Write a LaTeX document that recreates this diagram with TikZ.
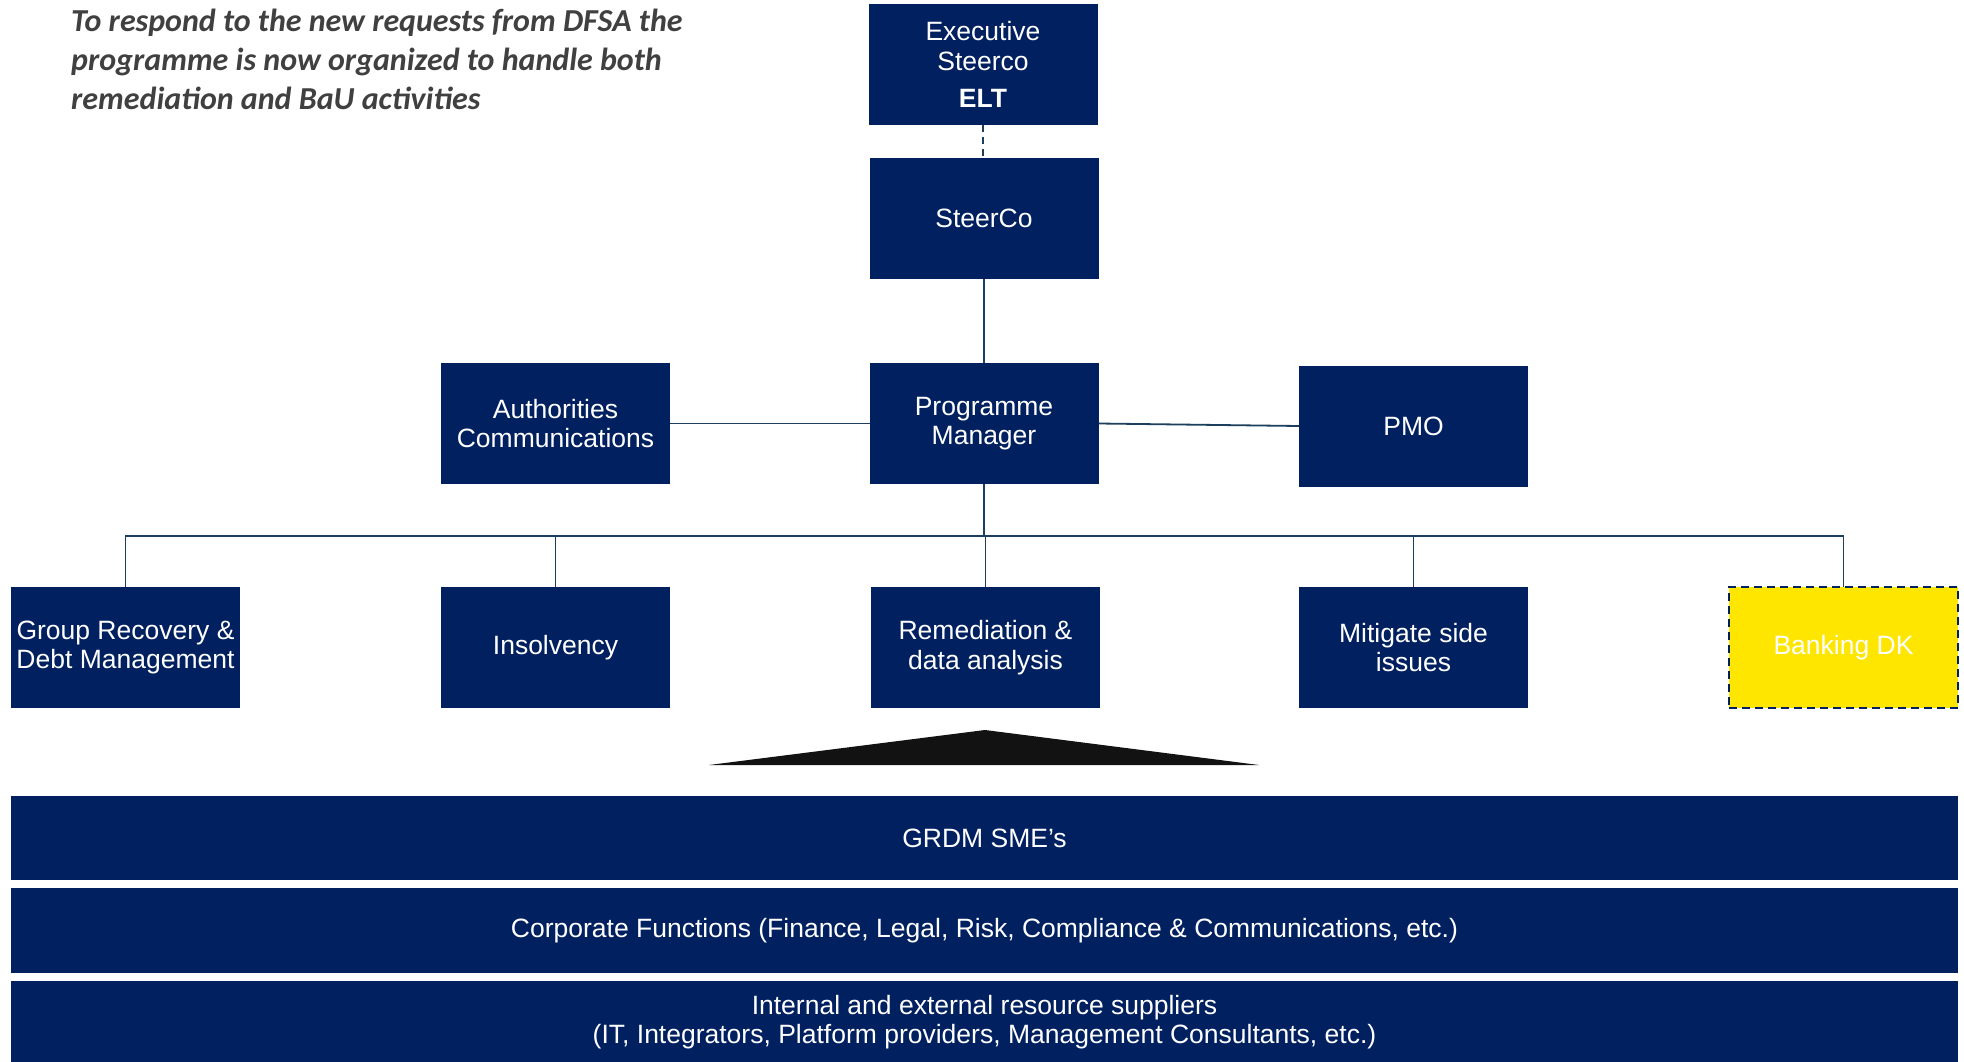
\documentclass[tikz,border=0pt]{standalone}
\usepackage{fontspec}
\setmainfont{Liberation Sans}
\newfontfamily\titlefont{Carlito}
\definecolor{navy}{HTML}{002060}
\definecolor{linec}{HTML}{1B3F5C}
\definecolor{ybox}{HTML}{FFE600}
\definecolor{titlegray}{HTML}{404040}
\tikzset{
  box/.style={fill=navy, text=white, minimum width=229pt, minimum height=121pt,
    inner sep=0pt, outer sep=0pt, align=center,
    font=\fontsize{26.5}{29.5}\selectfont},
  bar/.style={fill=navy, text=white, minimum width=1947pt,
    inner sep=0pt, outer sep=0pt, align=center,
    font=\fontsize{26.5}{29.5}\selectfont},
  conn/.style={draw=linec, line width=1.8pt},
}
\begin{document}
\begin{tikzpicture}[x=1pt,y=-1pt]
\useasboundingbox[fill=white] (0,0) rectangle (1964,1062);
% title
\node[anchor=north west, inner sep=0pt, align=left, text=titlegray,
  font=\titlefont\bfseries\itshape\fontsize{32}{38.7}\selectfont] (title) at (71,9)
  {To respond to the new requests from DFSA the\\programme is now organized to handle both\\remediation and BaU activities};
% top boxes
\node[box] (exec) at (983,64.5) {Executive\\Steerco\\[8pt]\textbf{ELT}};
\node[box] (steer) at (984,218.5) {SteerCo};
\node[box] (pm) at (984,423.5) {Programme\\Manager\vphantom{p}};
\node[box] (auth) at (555.5,423.5) {Authorities\\Communications};
\node[box] (pmo) at (1413.5,426) {PMO};
% bottom row
\node[box] (grdm) at (125.5,647.5) {\vphantom{g}Group Recovery \&\\Debt Management};
\node[box] (insol) at (555.5,647.5) {Insolvency};
\node[box] (remed) at (985.5,647.5) {Remediation \&\\data analysis\vphantom{g}};
\node[box] (mitig) at (1413.5,647.5) {Mitigate side\\issues};
\node[box, fill=ybox, draw=navy, line width=2.2pt, dash pattern=on 8pt off 5pt] (bank) at (1843.5,647.5) {Banking DK};
% connectors
\draw[conn, dash pattern=on 7pt off 5pt] (exec.south) -- (exec.south |- steer.north);
\draw[conn] (steer.south) -- (steer.south |- pm.north);
\draw[conn] (auth.east) -- (pm.west);
\draw[conn] (pm.east) -- (pmo.west);
\coordinate (busy) at (0,536);
\draw[conn] (pm.south) -- (pm.south |- busy);
\draw[conn] (grdm.north) -- (grdm.north |- busy) -- (bank.north |- busy) -- (bank.north);
\draw[conn] (insol.north) -- (insol.north |- busy);
\draw[conn] (remed.north) -- (remed.north |- busy);
\draw[conn] (mitig.north) -- (mitig.north |- busy);
% triangle
\coordinate (apex) at (985,730);
\coordinate (bl) at (709,765);
\coordinate (br) at (1259,765);
\fill[black!93] (bl) -- (apex) -- (br) -- cycle;
% bars
\node[bar, minimum height=84pt] (sme) at (984.5,838) {GRDM SME’s};
\node[bar, minimum height=85pt] (corp) at (984.5,930.5) {Corporate Functions (Finance, Legal, Risk, Compliance \& Communications, etc.)};
\node[bar, minimum height=82pt] (supp) at (984.5,1022) {Internal and external resource suppliers\\(IT, Integrators, Platform providers, Management Consultants, etc.)};
\end{tikzpicture}
\end{document}
